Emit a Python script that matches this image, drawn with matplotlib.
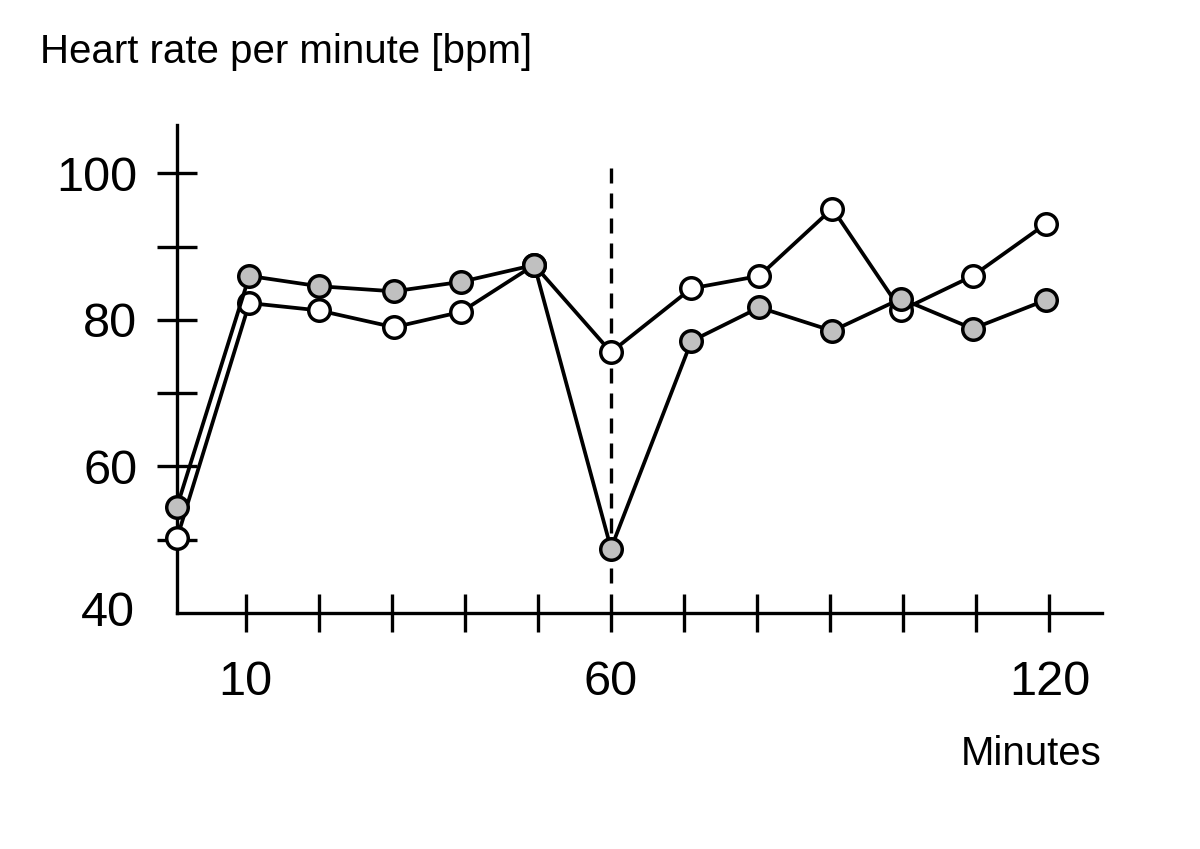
import matplotlib
matplotlib.use("Agg")
from matplotlib import pyplot as plt

plt.rcParams['font.family'] = ['Liberation Sans', 'DejaVu Sans']

# minutes and heart rate (bpm)
minutes = [0.6, 10.5, 20, 30.3, 39.5, 49.5, 60, 71, 80.3, 90.3, 99.7, 109.5, 119.5]
filled_hr = [54.5, 86.0, 84.6, 83.9, 85.2, 87.5, 48.8, 77.1, 81.7, 78.5, 82.9, 78.8, 82.7]
open_hr = [50.2, 82.3, 81.3, 79.0, 81.1, 87.5, 75.6, 84.3, 86.0, 95.2, 81.3, 86.0, 93.1]

xticks = [10, 20, 30, 40, 50, 60, 70, 80, 90, 100, 110, 120]
xlabels = ["10", "", "", "", "", "60", "", "", "", "", "", "120"]
yticks = [50, 60, 70, 80, 90, 100]
ylabels = ["", "60", "", "80", "", "100"]

fig = plt.figure(figsize=(12, 8.49), dpi=100)
ax = fig.add_axes([177/1200, (849-613)/849, (1102-177)/1200, (613-125)/849])

ax.plot([60, 60], [44.1, 101.8], color="black", lw=2.4, ls=(0, (4.5, 3)), zorder=1)

ax.plot(minutes, open_hr, color="black", lw=2.7, marker="o", ms=15.5,
        mfc="white", mec="black", mew=2.5, zorder=3, clip_on=False)
ax.plot(minutes, filled_hr, color="black", lw=2.7, marker="o", ms=15.5,
        mfc="#c0c0c0", mec="black", mew=2.5, zorder=4, clip_on=False)

ax.set_xlim(0.6, 127.2)
ax.set_ylim(40, 106.6)

ax.spines["top"].set_visible(False)
ax.spines["right"].set_visible(False)
ax.spines["left"].set_linewidth(2.4)
ax.spines["bottom"].set_linewidth(2.4)

ax.set_xticks(xticks)
ax.set_xticklabels(xlabels)
ax.set_yticks(yticks)
ax.set_yticklabels(ylabels)
ax.tick_params(axis="x", direction="inout", length=28, width=2.4, pad=20, labelsize=35)
ax.tick_params(axis="y", direction="inout", length=29, width=2.4, pad=14, labelsize=35)

ax.text(-0.045, 40, "40", transform=ax.get_yaxis_transform(), ha="right", va="center", fontsize=35)

fig.text(40/1200, 1 - 63/849, "Heart rate per minute [bpm]", fontsize=29, ha="left", va="baseline")
fig.text(1102/1200, 1 - 765/849, "Minutes", fontsize=29, ha="right", va="baseline")

fig.savefig("out.png", dpi=100)
